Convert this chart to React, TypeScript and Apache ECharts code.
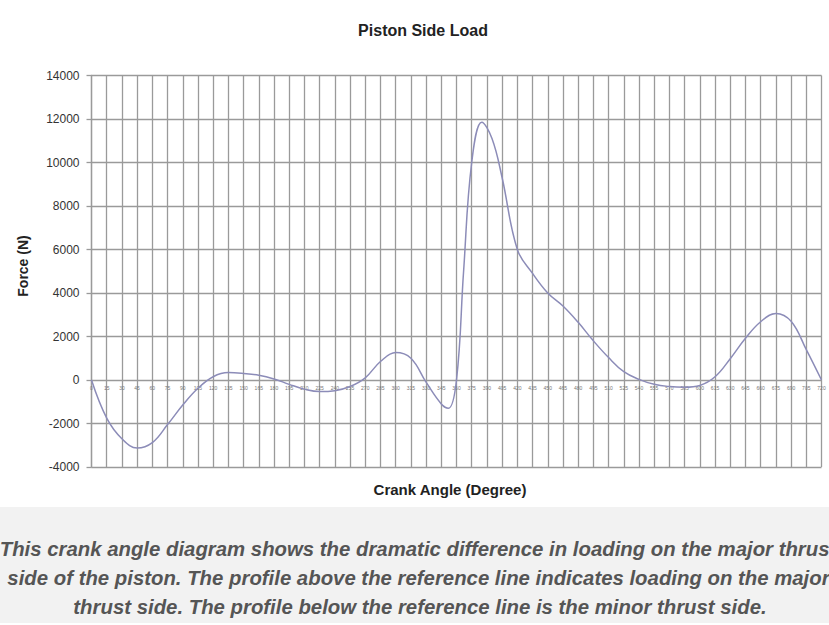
import React, { useEffect, useRef } from "react";
import * as echarts from "echarts";

const angles = [0, 15, 30, 45, 60, 75, 90, 105, 120, 135, 150, 165, 180, 195, 210, 225, 240, 255, 270, 285, 300, 315, 330, 345, 352, 360, 367, 375, 385, 395, 405, 420, 435, 450, 465, 480, 495, 510, 525, 540, 555, 570, 585, 600, 615, 630, 645, 660, 675, 690, 705, 720];
const forces = [0, -1750, -2700, -3130, -2880, -2050, -1150, -380, 150, 340, 300, 220, 50, -200, -420, -530, -490, -300, 100, 850, 1260, 1000, -100, -1100, -1300, 0, 5000, 10000, 11850, 11100, 9300, 6000, 4900, 4000, 3400, 2650, 1800, 1030, 380, 30, -200, -300, -330, -250, 150, 980, 1920, 2680, 3060, 2700, 1400, 0];

const chartTitle = "Piston Side Load";
const xName = "Crank Angle (Degree)";
const yName = "Force (N)";
const captionLines = [
  "This crank angle diagram shows the dramatic difference in loading on the major thrust",
  "side of the piston. The profile above the reference line indicates loading on the major",
  "thrust side. The profile below the reference line is the minor thrust side.",
];

const Y_MIN = -4000;
const Y_MAX = 14000;

export default function App() {
  const ref = useRef<HTMLDivElement>(null);
  useEffect(() => {
    if (!ref.current) return;
    const chart = echarts.init(ref.current, null, { renderer: "svg" });
    const data = angles.map((a, i) => [a, forces[i]]);
    const gridColor = "#9a9a9a";
    const gridTop = 75.5;
    const gridBottom = 158;
    const gridH = 625 - gridTop - gridBottom;
    const zeroOffset = -(gridH * (0 - Y_MIN)) / (Y_MAX - Y_MIN);
    chart.setOption({
      animation: false,
      backgroundColor: "#ffffff",
      title: {
        text: chartTitle,
        left: 418,
        top: 17,
        textAlign: "center",
        textStyle: { fontFamily: "Liberation Sans", fontSize: 16, fontWeight: "bold", color: "#222" },
      },
      grid: { left: 91.5, right: 7.5, top: gridTop, bottom: gridBottom, containLabel: false },
      xAxis: {
        type: "value",
        min: 0,
        max: 720,
        interval: 15,
        offset: zeroOffset,
        axisLine: { show: false, onZero: false },
        axisTick: { show: false },
        axisLabel: {
          fontSize: 5,
          color: "#777",
          margin: 5,
          fontFamily: "Liberation Sans",
          showMinLabel: true,
          showMaxLabel: true,
          hideOverlap: false,
        },
        splitLine: { show: true, lineStyle: { color: gridColor, width: 1.3 } },
      },
      yAxis: {
        type: "value",
        min: Y_MIN,
        max: Y_MAX,
        interval: 2000,
        axisLine: { show: true, onZero: false, lineStyle: { color: gridColor, width: 1.3 } },
        axisTick: { show: true, length: 5, lineStyle: { color: gridColor, width: 1.3 } },
        axisLabel: {
          fontSize: 12,
          color: "#333",
          margin: 12,
          fontFamily: "Liberation Sans",
          formatter: (v: number) => String(v),
        },
        splitLine: { show: true, lineStyle: { color: gridColor, width: 1.3 } },
      },
      series: [
        {
          type: "line",
          data,
          smooth: 0.4,
          showSymbol: false,
          lineStyle: { color: "#8c8cb8", width: 1.5 },
        },
      ],
      graphic: [
        {
          type: "text",
          x: 450,
          y: 489,
          style: {
            text: xName,
            fontFamily: "Liberation Sans",
            fontSize: 15,
            fontWeight: "bold",
            fill: "#222",
            align: "center",
            verticalAlign: "middle",
          },
        },
        {
          type: "text",
          x: 23,
          y: 266,
          rotation: Math.PI / 2,
          style: {
            text: yName,
            fontFamily: "Liberation Sans",
            fontSize: 14,
            fontWeight: "bold",
            fill: "#222",
            align: "center",
            verticalAlign: "middle",
          },
        },
        {
          type: "rect",
          shape: { x: 0, y: 507, width: 829, height: 116 },
          style: { fill: "#f2f2f2" },
          z: -1,
        },
        ...captionLines.map((t, i) => ({
          type: "text",
          x: [418, 418.5, 420][i],
          y: [548, 577, 606][i],
          scaleX: 0.97,
          style: {
            text: t,
            fontFamily: "Liberation Sans",
            fontSize: 21,
            fontWeight: "bold",
            fontStyle: "italic",
            fill: "#555",
            align: "center",
            verticalAlign: "middle",
          },
        })),
      ],
    });
    return () => chart.dispose();
  }, []);
  return (
    <div
      ref={ref}
      style={{ position: "fixed", left: 0, top: 0, width: 829, height: 625 }}
    />
  );
}
